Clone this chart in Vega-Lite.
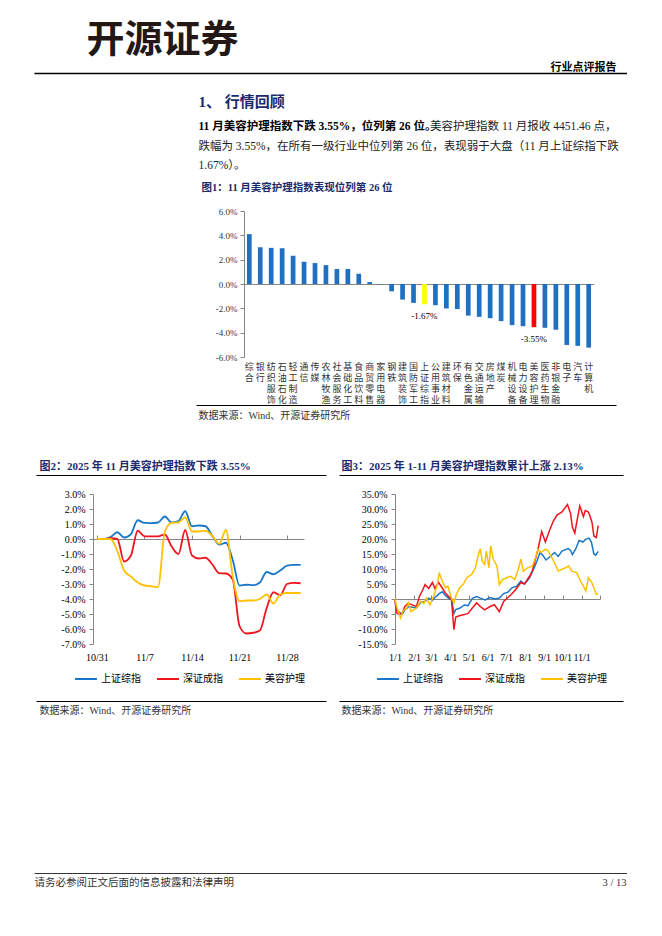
{
  "$schema": "https://vega.github.io/schema/vega-lite/v6.json",
  "padding": 0,
  "background": "#ffffff",
  "bounds": "flush",
  "spacing": 0,
  "columns": 4,
  "align": "each",
  "resolve": {"scale": {"color": "independent"}, "legend": {"color": "independent"}},
  "config": {
    "view": {"stroke": "transparent"},
    "concat": {"spacing": 0},
    "locale": {"number": {"decimal": ".", "thousands": ",", "grouping": [3], "currency": ["", ""], "minus": "-"}},
    "axis": {"grid": false, "titleLimit": 2000, "labelLimit": 300, "labelFont": "Liberation Serif, Noto Sans CJK SC", "titleFont": "Liberation Serif, Noto Sans CJK SC", "labelColor": "#000000", "titleColor": "#000000", "domainColor": "#868686", "tickColor": "#868686"},
    "legend": {"padding": 0}
  },
  "concat": [
    {"width": 92, "height": 73, "data": {"values": []}, "mark": "point"},
    {"width": 1, "height": 1, "data": {"values": []}, "mark": "point"},
    {"width": 1, "height": 1, "data": {"values": []}, "mark": "point"},
    {"width": 1, "height": 1, "data": {"values": []}, "mark": "point"},

    {
      "width": 92, "height": 1,
      "data": {"values": []},
      "layer": [
        {"mark": "point", "encoding": {
          "x": {"field": "a", "type": "quantitative", "scale": {"domain": [0, 1], "range": [33, 628]}, "axis": {"orient": "top", "domain": true, "domainColor": "#000000", "domainWidth": 1.3, "ticks": false, "labels": false, "title": "行业点评报告", "titleX": 615, "titleY": -6, "titleAlign": "right", "titleBaseline": "middle", "titleAngle": 0, "titleFont": "Noto Sans CJK SC", "titleFontSize": 11, "titleFontWeight": "bold", "titleColor": "#000000"}},
          "y": {"field": "b", "type": "quantitative", "scale": {"domain": [0, 1]}, "axis": {"orient": "left", "domain": false, "ticks": false, "labels": false, "title": "开源证券", "titleX": 85, "titleY": -33, "titleAlign": "left", "titleBaseline": "middle", "titleAngle": 0, "titleFont": "Noto Sans CJK SC", "titleFontSize": 38, "titleFontWeight": "bold", "titleColor": "#231815"}}
        }},
        {"mark": "point", "encoding": {
          "x": {"field": "a", "type": "quantitative", "axis": {"orient": "bottom", "domain": false, "ticks": false, "labels": false, "title": "1、 行情回顾", "titleX": 197, "titleY": 27, "titleAlign": "left", "titleBaseline": "middle", "titleAngle": 0, "titleFontSize": 15, "titleFontWeight": "bold", "titleColor": "#1b2a6b"}},
          "y": {"field": "b", "type": "quantitative", "axis": {"orient": "right", "domain": false, "ticks": false, "labels": false, "title": "11 月美容护理指数下跌 3.55%，位列第 26 位。", "titleX": 105, "titleY": 53, "titleAlign": "left", "titleBaseline": "middle", "titleAngle": 0, "titleFontSize": 11.5, "titleFontWeight": "bold", "titleColor": "#000000"}}
        }}
      ],
      "resolve": {"axis": {"x": "independent", "y": "independent"}}
    },
    {"width": 211, "height": 138, "data": {"values": []}, "mark": "point"},
    {"width": 1, "height": 1, "data": {"values": []}, "mark": "point"},
    {"width": 1, "height": 1, "data": {"values": []}, "mark": "point"},

    {"width": 92, "height": 194, "data": {"values": []}, "mark": "point"},
    {
      "width": 211, "height": 146,
      "data": {"values": [
        {"name": "综合", "v": 0.041}, {"name": "银行", "v": 0.0302}, {"name": "纺织服饰", "v": 0.0297}, {"name": "石油石化", "v": 0.0294},
        {"name": "轻工制造", "v": 0.0232}, {"name": "通信", "v": 0.0183}, {"name": "传媒", "v": 0.0172}, {"name": "农林牧渔", "v": 0.0155},
        {"name": "社会服务", "v": 0.0123}, {"name": "基础化工", "v": 0.0123}, {"name": "食品饮料", "v": 0.0084}, {"name": "商贸零售", "v": 0.0016},
        {"name": "家用电器", "v": -0.0003}, {"name": "钢铁", "v": -0.006}, {"name": "建筑装饰", "v": -0.0128}, {"name": "国防军工", "v": -0.0155},
        {"name": "上证综指", "v": -0.0167}, {"name": "公用事业", "v": -0.0174}, {"name": "建筑材料", "v": -0.0201}, {"name": "环保", "v": -0.0206},
        {"name": "有色金属", "v": -0.026}, {"name": "交通运输", "v": -0.027}, {"name": "房地产", "v": -0.0281}, {"name": "煤炭", "v": -0.0305},
        {"name": "机械设备", "v": -0.0338}, {"name": "电力设备", "v": -0.0347}, {"name": "美容护理", "v": -0.0355}, {"name": "医药生物", "v": -0.036},
        {"name": "非银金融", "v": -0.0376}, {"name": "电子", "v": -0.0501}, {"name": "汽车", "v": -0.0508}, {"name": "计算机", "v": -0.0523}
      ]},
      "layer": [
        {"mark": {"type": "bar"}, "encoding": {
          "x": {"field": "name", "type": "nominal", "sort": null, "scale": {"range": [151, 501], "paddingInner": 0.57, "paddingOuter": 0.27}, "axis": {"orient": "bottom", "domain": false, "ticks": false, "labelExpr": "split(datum.value,'')", "labelAngle": 0, "labelFont": "Noto Sans CJK SC", "labelFontSize": 9, "labelLineHeight": 11.2, "labelPadding": 5, "labelBaseline": "top", "labelOverlap": false, "labelBound": false, "labelFlush": false, "labelColor": "#333333",
            "title": ["跌幅为 3.55%，在所有一级行业中位列第 26 位，表现弱于大盘（11 月上证综指下跌", "1.67%）。"], "titleX": 105, "titleY": -211, "titleAlign": "left", "titleBaseline": "middle", "titleAngle": 0, "titleFontSize": 11.5, "titleLineHeight": 19.5, "titleFontWeight": "normal", "titleColor": "#222222"}},
          "y": {"field": "v", "type": "quantitative", "scale": {"domain": [-0.06, 0.06], "nice": false}, "axis": {"orient": "left", "offset": -151, "values": [-0.06, -0.04, -0.02, 0, 0.02, 0.04, 0.06], "format": ".1%", "labelFontSize": 9, "labelColor": "#333333", "tickSize": 4, "labelPadding": 3, "title": "图1：11 月美容护理指数表现位列第 26 位", "titleX": -43, "titleY": -24, "titleAngle": 0, "titleAlign": "left", "titleBaseline": "middle", "titleFontSize": 10.5, "titleFontWeight": "bold", "titleColor": "#1b2a6b"}},
          "color": {"condition": [{"test": "datum.name==='上证综指'", "value": "#FFFF00"}, {"test": "datum.name==='美容护理'", "value": "#FF0000"}], "value": "#1F70C0"}
        }},
        {"transform": [{"filter": "datum.name==='上证综指' || datum.name==='美容护理'"}],
         "mark": {"type": "text", "dy": 12, "fontSize": 9, "font": "Liberation Serif", "color": "#000000"},
         "encoding": {
          "x": {"field": "name", "type": "nominal", "sort": null, "axis": null},
          "y": {"field": "v", "type": "quantitative", "axis": null},
          "text": {"field": "v", "type": "quantitative", "format": ".2%"}
        }},
        {"transform": [{"filter": "false"}], "mark": "point", "encoding": {
          "x": {"field": "name", "type": "nominal", "sort": null, "axis": {"orient": "top", "offset": -73, "domain": true, "domainColor": "#868686", "ticks": false, "labels": false, "title": null}}
        }},
        {"transform": [{"filter": "false"}], "mark": "point", "encoding": {
          "y": {"field": "v", "type": "quantitative", "axis": {"orient": "right", "domain": false, "ticks": false, "labels": false, "title": "美容护理指数 11 月报收 4451.46 点，", "titleX": 312, "titleY": -85, "titleAlign": "right", "titleBaseline": "middle", "titleAngle": 0, "titleFontSize": 11.5, "titleFontWeight": "normal", "titleColor": "#222222"}}
        }}
      ],
      "resolve": {"axis": {"x": "independent", "y": "independent"}}
    },
    {"width": 1, "height": 1, "data": {"values": []}, "mark": "point"},
    {"width": 1, "height": 1, "data": {"values": []}, "mark": "point"},

    {"width": 92, "height": 1, "data": {"values": []}, "mark": "point", "encoding": {
      "x": {"field": "a", "type": "quantitative", "scale": {"domain": [0, 1], "range": [195, 615]}, "axis": {"orient": "top", "domain": true, "domainColor": "#000000", "domainWidth": 1, "ticks": false, "labels": false, "title": "数据来源：Wind、开源证券研究所", "titleX": 197, "titleY": 10, "titleAlign": "left", "titleBaseline": "middle", "titleAngle": 0, "titleFontSize": 10, "titleFontWeight": "normal", "titleColor": "#333333"}}
    }},
    {"width": 211, "height": 70, "data": {"values": []}, "mark": "point"},
    {"width": 1, "height": 1, "data": {"values": []}, "mark": "point"},
    {"width": 1, "height": 1, "data": {"values": []}, "mark": "point"},

    {"width": 92, "height": 1, "data": {"values": []}, "mark": "point", "encoding": {
      "x": {"field": "a", "type": "quantitative", "scale": {"domain": [0, 1], "range": [35, 325]}, "axis": {"orient": "top", "domain": true, "domainColor": "#000000", "domainWidth": 1.2, "ticks": false, "labels": false, "title": "图2：2025 年 11 月美容护理指数下跌 3.55%", "titleX": 38, "titleY": -9, "titleAlign": "left", "titleBaseline": "middle", "titleAngle": 0, "titleFontSize": 11, "titleFontWeight": "bold", "titleColor": "#1b2a6b"}}
    }},
    {"width": 211, "height": 19, "data": {"values": []}, "mark": "point"},
    {"width": 91, "height": 1, "data": {"values": []}, "mark": "point", "encoding": {
      "x": {"field": "a", "type": "quantitative", "scale": {"domain": [0, 1], "range": [35, 319]}, "axis": {"orient": "top", "domain": true, "domainColor": "#000000", "domainWidth": 1.2, "ticks": false, "labels": false, "title": "图3：2025 年 1-11 月美容护理指数累计上涨 2.13%", "titleX": 37, "titleY": -9, "titleAlign": "left", "titleBaseline": "middle", "titleAngle": 0, "titleFontSize": 11, "titleFontWeight": "bold", "titleColor": "#1b2a6b"}}
    }},
    {"width": 1, "height": 1, "data": {"values": []}, "mark": "point"},

    {"width": 92, "height": 207, "data": {"values": []}, "mark": "point"},
    {
      "width": 211, "height": 150,
      "data": {"values": [
        {"date": "2025-10-31", "上证综指": 0, "深证成指": 0, "美容护理": 0},
        {"date": "2025-11-01", "上证综指": 0, "深证成指": 0, "美容护理": 0},
        {"date": "2025-11-02", "上证综指": 0.0013, "深证成指": 0.0005, "美容护理": 0},
        {"date": "2025-11-03", "上证综指": 0.0045, "深证成指": 0.0, "美容护理": -0.008},
        {"date": "2025-11-04", "上证综指": 0.001, "深证成指": -0.015, "美容护理": -0.021},
        {"date": "2025-11-05", "上证综指": 0.0033, "深证成指": -0.011, "美容护理": -0.025},
        {"date": "2025-11-06", "上证综指": 0.0125, "深证成指": 0.0055, "美容护理": -0.029},
        {"date": "2025-11-07", "上证综指": 0.0107, "深证成指": 0.0018, "美容护理": -0.031},
        {"date": "2025-11-08", "上证综指": 0.0106, "深证成指": 0.0018, "美容护理": -0.0315},
        {"date": "2025-11-09", "上证综指": 0.011, "深证成指": 0.0018, "美容护理": -0.032},
        {"date": "2025-11-10", "上证综指": 0.015, "深证成指": 0.003, "美容护理": 0.005},
        {"date": "2025-11-11", "上证综指": 0.011, "深证成指": -0.005, "美容护理": 0.0107},
        {"date": "2025-11-12", "上证综指": 0.012, "深证成指": -0.01, "美容护理": 0.011},
        {"date": "2025-11-13", "上证综指": 0.0185, "深证成指": 0.006, "美容护理": 0.0145},
        {"date": "2025-11-14", "上证综指": 0.0085, "深证成指": -0.011, "美容护理": 0.005},
        {"date": "2025-11-15", "上证综指": 0.009, "深证成指": -0.013, "美容护理": 0.005},
        {"date": "2025-11-16", "上证综指": 0.0085, "深证成指": -0.0125, "美容护理": 0.0055},
        {"date": "2025-11-17", "上证综指": 0.002, "深证成指": -0.017, "美容护理": 0.002},
        {"date": "2025-11-18", "上证综指": -0.0038, "深证成指": -0.0227, "美容护理": -0.0033},
        {"date": "2025-11-19", "上证综指": -0.0025, "深证成指": -0.023, "美容护理": 0.006},
        {"date": "2025-11-20", "上证综指": -0.014, "深证成指": -0.027, "美容护理": -0.025},
        {"date": "2025-11-21", "上证综指": -0.031, "深证成指": -0.058, "美容护理": -0.0415},
        {"date": "2025-11-22", "上证综指": -0.0305, "深证成指": -0.063, "美容护理": -0.041},
        {"date": "2025-11-23", "上证综指": -0.0308, "深证成指": -0.0625, "美容护理": -0.041},
        {"date": "2025-11-24", "上证综指": -0.029, "深证成指": -0.061, "美容护理": -0.04},
        {"date": "2025-11-25", "上证综指": -0.022, "深证成指": -0.046, "美容护理": -0.037},
        {"date": "2025-11-26", "上证综指": -0.0235, "深证成指": -0.0355, "美容护理": -0.043},
        {"date": "2025-11-27", "上证综指": -0.021, "深证成指": -0.0375, "美容护理": -0.037},
        {"date": "2025-11-28", "上证综指": -0.0178, "深证成指": -0.03, "美容护理": -0.036},
        {"date": "2025-11-29", "上证综指": -0.0173, "深证成指": -0.0293, "美容护理": -0.036},
        {"date": "2025-11-30", "上证综指": -0.0173, "深证成指": -0.0295, "美容护理": -0.036}
      ]},
      "transform": [{"fold": ["上证综指", "深证成指", "美容护理"], "as": ["series", "value"]}],
      "layer": [
        {"mark": {"type": "line", "interpolate": "monotone", "strokeWidth": 1.8}, "encoding": {
          "x": {"field": "date", "type": "temporal", "scale": {"type": "utc", "domain": [{"year": 2025, "month": 10, "date": 30, "hours": 10, "utc": true}, {"year": 2025, "month": 11, "date": 30, "hours": 12, "utc": true}]},
            "axis": {"orient": "bottom", "domain": false, "ticks": false, "title": null, "values": [{"year": 2025, "month": 10, "date": 31, "utc": true}, {"year": 2025, "month": 11, "date": 7, "utc": true}, {"year": 2025, "month": 11, "date": 14, "utc": true}, {"year": 2025, "month": 11, "date": 21, "utc": true}, {"year": 2025, "month": 11, "date": 28, "utc": true}], "labelExpr": "utcFormat(datum.value, '%-m/%-d')", "labelFontSize": 10, "labelPadding": 8, "labelFlush": false}},
          "y": {"field": "value", "type": "quantitative", "scale": {"domain": [-0.07, 0.03], "nice": false}, "axis": {"values": [-0.07, -0.06, -0.05, -0.04, -0.03, -0.02, -0.01, 0, 0.01, 0.02, 0.03], "format": ".1%", "labelFontSize": 10, "tickSize": 4, "labelPadding": 4, "title": null}},
          "color": {"field": "series", "type": "nominal", "scale": {"domain": ["上证综指", "深证成指", "美容护理"], "range": ["#1877C9", "#F0141E", "#FFC000"]}, "legend": {"orient": "none", "legendX": -19, "legendY": 173, "direction": "horizontal", "title": null, "symbolType": "stroke", "symbolSize": 480, "symbolStrokeWidth": 2, "labelFont": "Noto Sans CJK SC", "labelFontSize": 10, "labelColor": "#000000", "columnPadding": 12, "labelOffset": 3}}
        }},
        {"transform": [{"filter": "false"}], "mark": "point", "encoding": {
          "x": {"field": "date", "type": "temporal", "axis": {"orient": "top", "offset": -45, "labels": false, "ticks": true, "tickSize": 4, "domain": true, "title": null, "values": [{"year": 2025, "month": 10, "date": 31, "utc": true}, {"year": 2025, "month": 11, "date": 7, "utc": true}, {"year": 2025, "month": 11, "date": 14, "utc": true}, {"year": 2025, "month": 11, "date": 21, "utc": true}, {"year": 2025, "month": 11, "date": 28, "utc": true}]}}
        }}
      ],
      "resolve": {"axis": {"x": "independent"}}
    },
    {"width": 91, "height": 1, "data": {"values": []}, "mark": "point"},
    {
      "width": 205, "height": 150,
      "data": {"values": [
        {"date": "2025-01-01", "series": "上证综指", "value": 0},
        {"date": "2025-01-03", "series": "上证综指", "value": -0.035},
        {"date": "2025-01-08", "series": "上证综指", "value": -0.045},
        {"date": "2025-01-13", "series": "上证综指", "value": -0.05},
        {"date": "2025-01-17", "series": "上证综指", "value": -0.036},
        {"date": "2025-01-24", "series": "上证综指", "value": -0.025},
        {"date": "2025-02-05", "series": "上证综指", "value": -0.03},
        {"date": "2025-02-12", "series": "上证综指", "value": -0.012},
        {"date": "2025-02-19", "series": "上证综指", "value": -0.008},
        {"date": "2025-02-25", "series": "上证综指", "value": 0.003},
        {"date": "2025-03-03", "series": "上证综指", "value": -0.005},
        {"date": "2025-03-07", "series": "上证综指", "value": 0.005},
        {"date": "2025-03-14", "series": "上证综指", "value": 0.018},
        {"date": "2025-03-19", "series": "上证综指", "value": 0.024},
        {"date": "2025-03-24", "series": "上证综指", "value": 0.012},
        {"date": "2025-03-31", "series": "上证综指", "value": 0.0},
        {"date": "2025-04-03", "series": "上证综指", "value": 0.003},
        {"date": "2025-04-07", "series": "上证综指", "value": -0.048},
        {"date": "2025-04-10", "series": "上证综指", "value": -0.035},
        {"date": "2025-04-17", "series": "上证综指", "value": -0.03},
        {"date": "2025-04-24", "series": "上证综指", "value": -0.02},
        {"date": "2025-04-30", "series": "上证综指", "value": -0.022},
        {"date": "2025-05-07", "series": "上证综指", "value": 0.002},
        {"date": "2025-05-14", "series": "上证综指", "value": 0.008},
        {"date": "2025-05-20", "series": "上证综指", "value": 0.003},
        {"date": "2025-05-28", "series": "上证综指", "value": -0.003},
        {"date": "2025-06-05", "series": "上证综指", "value": 0.005},
        {"date": "2025-06-13", "series": "上证综指", "value": 0.0},
        {"date": "2025-06-20", "series": "上证综指", "value": 0.003},
        {"date": "2025-06-27", "series": "上证综指", "value": 0.018},
        {"date": "2025-07-04", "series": "上证综指", "value": 0.023},
        {"date": "2025-07-11", "series": "上证综指", "value": 0.038},
        {"date": "2025-07-18", "series": "上证综指", "value": 0.042},
        {"date": "2025-07-25", "series": "上证综指", "value": 0.06},
        {"date": "2025-07-31", "series": "上证综指", "value": 0.05},
        {"date": "2025-08-08", "series": "上证综指", "value": 0.07},
        {"date": "2025-08-15", "series": "上证综指", "value": 0.1},
        {"date": "2025-08-20", "series": "上证综指", "value": 0.125},
        {"date": "2025-08-25", "series": "上证综指", "value": 0.153},
        {"date": "2025-08-29", "series": "上证综指", "value": 0.148},
        {"date": "2025-09-04", "series": "上证综指", "value": 0.13},
        {"date": "2025-09-10", "series": "上证综指", "value": 0.14},
        {"date": "2025-09-18", "series": "上证综指", "value": 0.155},
        {"date": "2025-09-24", "series": "上证综指", "value": 0.142},
        {"date": "2025-09-30", "series": "上证综指", "value": 0.16},
        {"date": "2025-10-10", "series": "上证综指", "value": 0.168},
        {"date": "2025-10-14", "series": "上证综指", "value": 0.162},
        {"date": "2025-10-17", "series": "上证综指", "value": 0.148},
        {"date": "2025-10-22", "series": "上证综指", "value": 0.165},
        {"date": "2025-10-28", "series": "上证综指", "value": 0.195},
        {"date": "2025-11-03", "series": "上证综指", "value": 0.19},
        {"date": "2025-11-07", "series": "上证综指", "value": 0.198},
        {"date": "2025-11-13", "series": "上证综指", "value": 0.203},
        {"date": "2025-11-17", "series": "上证综指", "value": 0.19},
        {"date": "2025-11-21", "series": "上证综指", "value": 0.15},
        {"date": "2025-11-24", "series": "上证综指", "value": 0.146},
        {"date": "2025-11-28", "series": "上证综指", "value": 0.159},
        {"date": "2025-01-01", "series": "深证成指", "value": 0},
        {"date": "2025-01-03", "series": "深证成指", "value": -0.045},
        {"date": "2025-01-08", "series": "深证成指", "value": -0.052},
        {"date": "2025-01-13", "series": "深证成指", "value": -0.046},
        {"date": "2025-01-17", "series": "深证成指", "value": -0.025},
        {"date": "2025-01-22", "series": "深证成指", "value": -0.015},
        {"date": "2025-01-27", "series": "深证成指", "value": -0.018},
        {"date": "2025-02-05", "series": "深证成指", "value": -0.025},
        {"date": "2025-02-10", "series": "深证成指", "value": 0.01},
        {"date": "2025-02-14", "series": "深证成指", "value": 0.025},
        {"date": "2025-02-19", "series": "深证成指", "value": 0.048},
        {"date": "2025-02-25", "series": "深证成指", "value": 0.035},
        {"date": "2025-03-03", "series": "深证成指", "value": 0.055},
        {"date": "2025-03-07", "series": "深证成指", "value": 0.035},
        {"date": "2025-03-13", "series": "深证成指", "value": 0.055},
        {"date": "2025-03-18", "series": "深证成指", "value": 0.04},
        {"date": "2025-03-24", "series": "深证成指", "value": 0.02},
        {"date": "2025-03-31", "series": "深证成指", "value": 0.005},
        {"date": "2025-04-03", "series": "深证成指", "value": -0.002},
        {"date": "2025-04-07", "series": "深证成指", "value": -0.102},
        {"date": "2025-04-10", "series": "深证成指", "value": -0.06},
        {"date": "2025-04-17", "series": "深证成指", "value": -0.055},
        {"date": "2025-04-24", "series": "深证成指", "value": -0.052},
        {"date": "2025-04-30", "series": "深证成指", "value": -0.048},
        {"date": "2025-05-07", "series": "深证成指", "value": -0.03},
        {"date": "2025-05-14", "series": "深证成指", "value": -0.013},
        {"date": "2025-05-20", "series": "深证成指", "value": -0.025},
        {"date": "2025-05-27", "series": "深证成指", "value": -0.036},
        {"date": "2025-06-05", "series": "深证成指", "value": -0.025},
        {"date": "2025-06-12", "series": "深证成指", "value": -0.019},
        {"date": "2025-06-20", "series": "深证成指", "value": -0.042},
        {"date": "2025-06-27", "series": "深证成指", "value": -0.008},
        {"date": "2025-07-04", "series": "深证成指", "value": 0.005},
        {"date": "2025-07-11", "series": "深证成指", "value": 0.018},
        {"date": "2025-07-18", "series": "深证成指", "value": 0.035},
        {"date": "2025-07-25", "series": "深证成指", "value": 0.055},
        {"date": "2025-07-31", "series": "深证成指", "value": 0.05},
        {"date": "2025-08-08", "series": "深证成指", "value": 0.075},
        {"date": "2025-08-13", "series": "深证成指", "value": 0.095},
        {"date": "2025-08-18", "series": "深证成指", "value": 0.135},
        {"date": "2025-08-22", "series": "深证成指", "value": 0.165},
        {"date": "2025-08-28", "series": "深证成指", "value": 0.225},
        {"date": "2025-09-03", "series": "深证成指", "value": 0.19},
        {"date": "2025-09-10", "series": "深证成指", "value": 0.23},
        {"date": "2025-09-16", "series": "深证成指", "value": 0.26},
        {"date": "2025-09-22", "series": "深证成指", "value": 0.28},
        {"date": "2025-09-30", "series": "深证成指", "value": 0.29},
        {"date": "2025-10-09", "series": "深证成指", "value": 0.315},
        {"date": "2025-10-14", "series": "深证成指", "value": 0.285},
        {"date": "2025-10-17", "series": "深证成指", "value": 0.24},
        {"date": "2025-10-21", "series": "深证成指", "value": 0.22},
        {"date": "2025-10-24", "series": "深证成指", "value": 0.255},
        {"date": "2025-10-29", "series": "深证成指", "value": 0.31},
        {"date": "2025-11-04", "series": "深证成指", "value": 0.275},
        {"date": "2025-11-07", "series": "深证成指", "value": 0.295},
        {"date": "2025-11-12", "series": "深证成指", "value": 0.29},
        {"date": "2025-11-14", "series": "深证成指", "value": 0.28},
        {"date": "2025-11-18", "series": "深证成指", "value": 0.255},
        {"date": "2025-11-21", "series": "深证成指", "value": 0.21},
        {"date": "2025-11-25", "series": "深证成指", "value": 0.205},
        {"date": "2025-11-28", "series": "深证成指", "value": 0.245},
        {"date": "2025-01-01", "series": "美容护理", "value": 0},
        {"date": "2025-01-03", "series": "美容护理", "value": -0.02},
        {"date": "2025-01-07", "series": "美容护理", "value": -0.045},
        {"date": "2025-01-10", "series": "美容护理", "value": -0.064},
        {"date": "2025-01-14", "series": "美容护理", "value": -0.04},
        {"date": "2025-01-20", "series": "美容护理", "value": -0.03},
        {"date": "2025-01-23", "series": "美容护理", "value": -0.013},
        {"date": "2025-01-27", "series": "美容护理", "value": -0.042},
        {"date": "2025-02-05", "series": "美容护理", "value": -0.03},
        {"date": "2025-02-12", "series": "美容护理", "value": -0.008},
        {"date": "2025-02-17", "series": "美容护理", "value": -0.015},
        {"date": "2025-02-21", "series": "美容护理", "value": 0.003},
        {"date": "2025-02-27", "series": "美容护理", "value": -0.019},
        {"date": "2025-03-06", "series": "美容护理", "value": 0.015},
        {"date": "2025-03-11", "series": "美容护理", "value": 0.048},
        {"date": "2025-03-14", "series": "美容护理", "value": 0.088},
        {"date": "2025-03-18", "series": "美容护理", "value": 0.065},
        {"date": "2025-03-24", "series": "美容护理", "value": 0.037},
        {"date": "2025-03-28", "series": "美容护理", "value": 0.043},
        {"date": "2025-04-03", "series": "美容护理", "value": 0.003},
        {"date": "2025-04-07", "series": "美容护理", "value": -0.013},
        {"date": "2025-04-11", "series": "美容护理", "value": 0.015},
        {"date": "2025-04-16", "series": "美容护理", "value": 0.037},
        {"date": "2025-04-22", "series": "美容护理", "value": 0.048},
        {"date": "2025-04-28", "series": "美容护理", "value": 0.071},
        {"date": "2025-05-06", "series": "美容护理", "value": 0.082},
        {"date": "2025-05-12", "series": "美容护理", "value": 0.104},
        {"date": "2025-05-16", "series": "美容护理", "value": 0.14},
        {"date": "2025-05-20", "series": "美容护理", "value": 0.168},
        {"date": "2025-05-23", "series": "美容护理", "value": 0.127},
        {"date": "2025-05-27", "series": "美容护理", "value": 0.115},
        {"date": "2025-05-30", "series": "美容护理", "value": 0.16},
        {"date": "2025-06-03", "series": "美容护理", "value": 0.104},
        {"date": "2025-06-06", "series": "美容护理", "value": 0.178},
        {"date": "2025-06-10", "series": "美容护理", "value": 0.133},
        {"date": "2025-06-16", "series": "美容护理", "value": 0.11},
        {"date": "2025-06-20", "series": "美容护理", "value": 0.048},
        {"date": "2025-06-25", "series": "美容护理", "value": 0.065},
        {"date": "2025-07-01", "series": "美容护理", "value": 0.07},
        {"date": "2025-07-08", "series": "美容护理", "value": 0.076},
        {"date": "2025-07-15", "series": "美容护理", "value": 0.065},
        {"date": "2025-07-21", "series": "美容护理", "value": 0.099},
        {"date": "2025-07-25", "series": "美容护理", "value": 0.133},
        {"date": "2025-07-29", "series": "美容护理", "value": 0.093},
        {"date": "2025-08-05", "series": "美容护理", "value": 0.104},
        {"date": "2025-08-13", "series": "美容护理", "value": 0.11},
        {"date": "2025-08-18", "series": "美容护理", "value": 0.138},
        {"date": "2025-08-22", "series": "美容护理", "value": 0.166},
        {"date": "2025-08-27", "series": "美容护理", "value": 0.155},
        {"date": "2025-09-03", "series": "美容护理", "value": 0.166},
        {"date": "2025-09-08", "series": "美容护理", "value": 0.16},
        {"date": "2025-09-12", "series": "美容护理", "value": 0.144},
        {"date": "2025-09-19", "series": "美容护理", "value": 0.116},
        {"date": "2025-09-24", "series": "美容护理", "value": 0.093},
        {"date": "2025-09-30", "series": "美容护理", "value": 0.099},
        {"date": "2025-10-06", "series": "美容护理", "value": 0.104},
        {"date": "2025-10-11", "series": "美容护理", "value": 0.11},
        {"date": "2025-10-16", "series": "美容护理", "value": 0.093},
        {"date": "2025-10-24", "series": "美容护理", "value": 0.088},
        {"date": "2025-10-29", "series": "美容护理", "value": 0.065},
        {"date": "2025-11-04", "series": "美容护理", "value": 0.043},
        {"date": "2025-11-08", "series": "美容护理", "value": 0.026},
        {"date": "2025-11-12", "series": "美容护理", "value": 0.071},
        {"date": "2025-11-18", "series": "美容护理", "value": 0.054},
        {"date": "2025-11-25", "series": "美容护理", "value": 0.015},
        {"date": "2025-11-28", "series": "美容护理", "value": 0.018}
      ]},
      "layer": [
        {"mark": {"type": "line", "strokeWidth": 1.5}, "encoding": {
          "x": {"field": "date", "type": "temporal", "scale": {"type": "utc", "domain": [{"year": 2025, "month": 1, "date": 1, "utc": true}, {"year": 2025, "month": 12, "date": 1, "utc": true}]},
            "axis": {"orient": "bottom", "domain": false, "ticks": false, "title": null, "values": [{"year": 2025, "month": 1, "date": 1, "utc": true}, {"year": 2025, "month": 2, "date": 1, "utc": true}, {"year": 2025, "month": 3, "date": 1, "utc": true}, {"year": 2025, "month": 4, "date": 1, "utc": true}, {"year": 2025, "month": 5, "date": 1, "utc": true}, {"year": 2025, "month": 6, "date": 1, "utc": true}, {"year": 2025, "month": 7, "date": 1, "utc": true}, {"year": 2025, "month": 8, "date": 1, "utc": true}, {"year": 2025, "month": 9, "date": 1, "utc": true}, {"year": 2025, "month": 10, "date": 1, "utc": true}, {"year": 2025, "month": 11, "date": 1, "utc": true}], "labelExpr": "utcFormat(datum.value, '%-m/%-d')", "labelFontSize": 10, "labelPadding": 8, "labelFlush": false, "labelOverlap": false}},
          "y": {"field": "value", "type": "quantitative", "scale": {"domain": [-0.15, 0.35], "nice": false}, "axis": {"values": [-0.15, -0.1, -0.05, 0, 0.05, 0.1, 0.15, 0.2, 0.25, 0.3, 0.35], "format": ".1%", "labelFontSize": 10, "tickSize": 4, "labelPadding": 4, "title": null}},
          "color": {"field": "series", "type": "nominal", "scale": {"domain": ["上证综指", "深证成指", "美容护理"], "range": ["#1877C9", "#F0141E", "#FFC000"]}, "legend": {"orient": "none", "legendX": -19, "legendY": 173, "direction": "horizontal", "title": null, "symbolType": "stroke", "symbolSize": 480, "symbolStrokeWidth": 2, "labelFont": "Noto Sans CJK SC", "labelFontSize": 10, "labelColor": "#000000", "columnPadding": 12, "labelOffset": 3}}
        }},
        {"transform": [{"filter": "false"}], "mark": "point", "encoding": {
          "x": {"field": "date", "type": "temporal", "axis": {"orient": "top", "offset": -105, "labels": false, "ticks": true, "tickSize": 4, "domain": true, "title": null, "values": [{"year": 2025, "month": 1, "date": 1, "utc": true}, {"year": 2025, "month": 2, "date": 1, "utc": true}, {"year": 2025, "month": 3, "date": 1, "utc": true}, {"year": 2025, "month": 4, "date": 1, "utc": true}, {"year": 2025, "month": 5, "date": 1, "utc": true}, {"year": 2025, "month": 6, "date": 1, "utc": true}, {"year": 2025, "month": 7, "date": 1, "utc": true}, {"year": 2025, "month": 8, "date": 1, "utc": true}, {"year": 2025, "month": 9, "date": 1, "utc": true}, {"year": 2025, "month": 10, "date": 1, "utc": true}, {"year": 2025, "month": 11, "date": 1, "utc": true}, {"year": 2025, "month": 12, "date": 1, "utc": true}]}}
        }}
      ],
      "resolve": {"axis": {"x": "independent"}}
    },

    {"width": 92, "height": 1, "data": {"values": []}, "mark": "point", "encoding": {
      "x": {"field": "a", "type": "quantitative", "scale": {"domain": [0, 1], "range": [35, 325]}, "axis": {"orient": "top", "domain": true, "domainColor": "#000000", "domainWidth": 1, "ticks": false, "labels": false, "title": "数据来源：Wind、开源证券研究所", "titleX": 38, "titleY": 9, "titleAlign": "left", "titleBaseline": "middle", "titleAngle": 0, "titleFontSize": 10, "titleFontWeight": "normal", "titleColor": "#333333"}}
    }},
    {"width": 211, "height": 172, "data": {"values": []}, "mark": "point"},
    {"width": 91, "height": 1, "data": {"values": []}, "mark": "point", "encoding": {
      "x": {"field": "a", "type": "quantitative", "scale": {"domain": [0, 1], "range": [35, 319]}, "axis": {"orient": "top", "domain": true, "domainColor": "#000000", "domainWidth": 1, "ticks": false, "labels": false, "title": "数据来源：Wind、开源证券研究所", "titleX": 37, "titleY": 9, "titleAlign": "left", "titleBaseline": "middle", "titleAngle": 0, "titleFontSize": 10, "titleFontWeight": "normal", "titleColor": "#333333"}}
    }},
    {"width": 1, "height": 1, "data": {"values": []}, "mark": "point"},

    {"width": 92, "height": 1, "data": {"values": []}, "mark": "point", "encoding": {
      "x": {"field": "a", "type": "quantitative", "scale": {"domain": [0, 1], "range": [33, 628]}, "axis": {"orient": "top", "domain": true, "domainColor": "#000000", "domainWidth": 0.8, "ticks": false, "labels": false, "title": "请务必参阅正文后面的信息披露和法律声明", "titleX": 33, "titleY": 9, "titleAlign": "left", "titleBaseline": "middle", "titleAngle": 0, "titleFontSize": 10.5, "titleFontWeight": "normal", "titleColor": "#333333"}},
      "y": {"field": "b", "type": "quantitative", "scale": {"domain": [0, 1]}, "axis": {"orient": "right", "domain": false, "ticks": false, "labels": false, "title": "3 / 13", "titleX": 533, "titleY": 9, "titleAlign": "right", "titleBaseline": "middle", "titleAngle": 0, "titleFontSize": 10.5, "titleFontWeight": "normal", "titleColor": "#333333"}}
    }},
    {"width": 1, "height": 1, "data": {"values": []}, "mark": "point"},
    {"width": 1, "height": 1, "data": {"values": []}, "mark": "point"},
    {"width": 1, "height": 1, "data": {"values": []}, "mark": "point"}
  ]
}
